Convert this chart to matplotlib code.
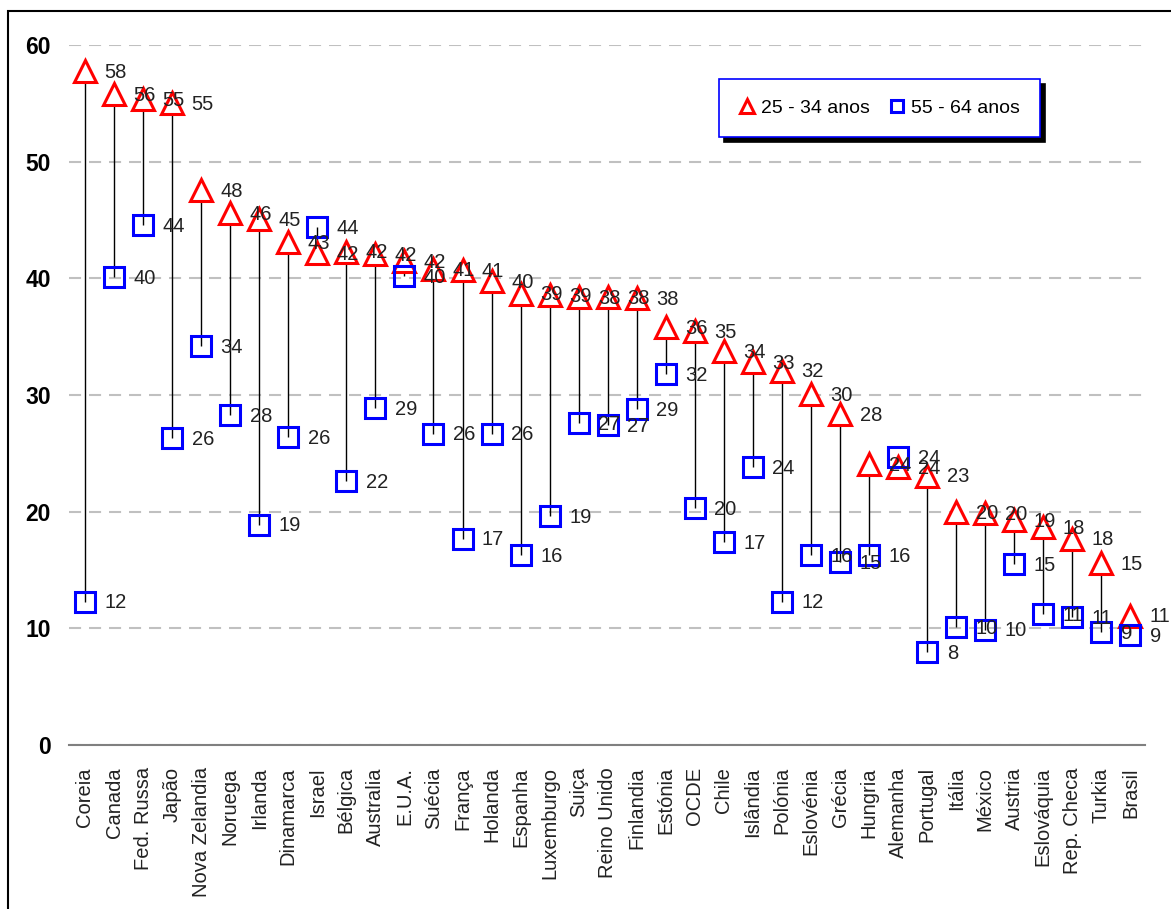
import matplotlib
matplotlib.use("Agg")
import matplotlib.pyplot as plt
from matplotlib.patches import Rectangle

plt.rcParams['font.family'] = ['Liberation Sans', 'DejaVu Sans']

# Countries, in the order shown
paises = ["Coreia", "Canada", "Fed. Russa", "Japão", "Nova Zelandia", "Noruega",
          "Irlanda", "Dinamarca", "Israel", "Bélgica", "Australia", "E.U.A.",
          "Suécia", "França", "Holanda", "Espanha", "Luxemburgo", "Suiça",
          "Reino Unido", "Finlandia", "Estónia", "OCDE", "Chile", "Islândia",
          "Polónia", "Eslovénia", "Grécia", "Hungria", "Alemanha", "Portugal",
          "Itália", "México", "Austria", "Eslováquia", "Rep. Checa", "Turkia",
          "Brasil"]

# 25 - 34 anos (marker positions)
jovens = [57.8, 55.8, 55.4, 55.0, 47.6, 45.6, 45.1, 43.1, 42.2, 42.3, 42.1, 41.5,
          40.8, 40.7, 39.8, 38.7, 38.6, 38.4, 38.4, 38.3, 35.8, 35.5, 33.8, 32.8,
          32.1, 30.1, 28.4, 24.1, 23.8, 23.1, 20.0, 19.9, 19.3, 18.7, 17.7, 15.6,
          11.1]
# labels printed next to the triangles
jovens_txt = [58, 56, 55, 55, 48, 46, 45, 43, 42, 42, 42, 42, 41, 41, 40, 39, 39,
              38, 38, 38, 36, 35, 34, 33, 32, 30, 28, 24, 24, 23, 20, 20, 19, 18,
              18, 15, 11]

# 55 - 64 anos
velhos = [12.3, 40.1, 44.6, 26.3, 34.2, 28.3, 18.9, 26.4, 44.4, 22.6, 28.9, 40.2,
          26.7, 17.7, 26.7, 16.3, 19.6, 27.6, 27.4, 28.8, 31.8, 20.3, 17.4, 23.8,
          12.3, 16.3, 15.7, 16.3, 24.7, 8.0, 10.1, 9.9, 15.5, 11.2, 11.0, 9.7,
          9.4]
velhos_txt = [12, 40, 44, 26, 34, 28, 19, 26, 44, 22, 29, 40, 26, 17, 26, 16, 19,
              27, 27, 29, 32, 20, 17, 24, 12, 16, 15, 16, 24, 8, 10, 10, 15, 11,
              11, 9, 9]

x = list(range(len(paises)))

fig = plt.figure(figsize=(11.71, 9.09), dpi=100)
ax = fig.add_axes([69 / 1171, (909 - 745) / 909, (1145 - 69) / 1171, (745 - 45) / 909])

# high-low lines
ax.vlines(x, velhos, jovens, color='black', lw=1.0, zorder=1)

tri, = ax.plot(x, jovens, ls='none', marker='^', ms=15.5, mfc='white', mec='red',
               mew=2.2, zorder=2, label='25 - 34 anos')
sq, = ax.plot(x, velhos, ls='none', marker='s', ms=14, mfc='none', mec='blue',
              mew=2.2, zorder=3, label='55 - 64 anos')

for i in x:
    ax.annotate(str(jovens_txt[i]), (i, jovens[i]), xytext=(14, -1),
                textcoords='offset points', ha='left', va='center',
                fontsize=14.5, color='#222222', zorder=5)
    ax.annotate(str(velhos_txt[i]), (i, velhos[i]), xytext=(14, -1),
                textcoords='offset points', ha='left', va='center',
                fontsize=14.5, color='#222222', zorder=5)

ax.set_xlim(-0.55, 36.5)
ax.set_ylim(0, 60)
ax.set_yticks(range(0, 61, 10))
ax.set_xticks(x)
ax.set_xticklabels(paises, rotation=90, fontsize=14.5, color='#222222')
for t in ax.get_yticklabels():
    t.set_fontsize(16.5)
    t.set_fontweight('bold')
ax.tick_params(axis='y', length=0, pad=13)
ax.tick_params(axis='x', length=0, pad=16)

ax.yaxis.grid(True, color='#c0c0c0', lw=1.5, ls=(0, (5.8, 3.8)))
ax.set_axisbelow(True)
for s in ['left', 'right', 'top']:
    ax.spines[s].set_visible(False)
ax.spines['bottom'].set_color('#808080')
ax.spines['bottom'].set_linewidth(1.5)

leg = ax.legend(handles=[tri, sq], ncol=2, loc='upper left',
                bbox_to_anchor=(719 / 1171, 1 - 79 / 909), bbox_transform=fig.transFigure,
                frameon=True, fancybox=False, edgecolor='blue', framealpha=1,
                markerscale=0.65, handlelength=0.8, handletextpad=0.3,
                columnspacing=1.0, borderpad=1.05, borderaxespad=0,
                fontsize=14, shadow={'ox': 3.5, 'oy': -3.5, 'color': 'black', 'alpha': 1})
leg.get_frame().set_linewidth(1.2)

# outer frame of the picture
fig.add_artist(Rectangle((8 / 1171, -0.1), 1.2, 1 - 11 / 909 + 0.1,
                         transform=fig.transFigure, fill=False, ec='black', lw=1.5))

fig.savefig("out.png", dpi=100)
